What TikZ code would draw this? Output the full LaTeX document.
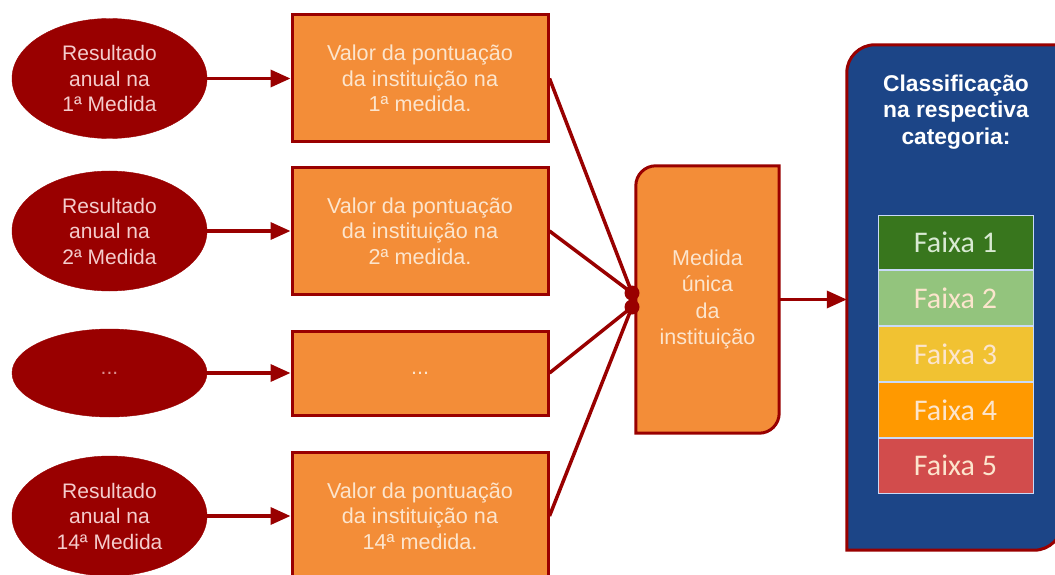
\documentclass[tikz,border=0pt]{standalone}
\usepackage{fontspec}
\setmainfont{Liberation Sans}
\newfontfamily\calib{Carlito}
\usetikzlibrary{shapes.geometric,arrows.meta,backgrounds}
\definecolor{dred}{HTML}{990000}
\definecolor{orng}{HTML}{F38D38}
\definecolor{blu}{HTML}{1C4587}
\definecolor{pinktxt}{HTML}{F4CCCC}
\definecolor{peach}{HTML}{FCE5CD}
\definecolor{lgreentxt}{HTML}{D9EAD3}
\definecolor{fa1}{HTML}{38761D}
\definecolor{fa2}{HTML}{93C47D}
\definecolor{fa3}{HTML}{F1C232}
\definecolor{fa4}{HTML}{FF9900}
\definecolor{fa5}{HTML}{D24C4C}
\definecolor{tline}{HTML}{C9DAF8}
\begin{document}
\begin{tikzpicture}[x=1pt,y=-1pt,
  oval/.style={ellipse, fill=dred, draw=dred, minimum width=195, minimum height=120, inner sep=0pt,
    align=center, text=pinktxt, font=\fontsize{21}{25.5}\selectfont},
  valbox/.style={rectangle, fill=orng, draw=dred, line width=3pt, minimum width=256, minimum height=127,
    align=center, text=peach, font=\fontsize{21.6}{25.5}\selectfont},
  conn/.style={draw=dred, line width=3.5pt},
  arr/.style={conn, -{Triangle[length=20pt,width=17pt]}},
  faixa/.style={rectangle, draw=tline, line width=1pt, minimum width=155, minimum height=54.8, inner sep=0pt,
    font=\calib\fontsize{30}{32}\selectfont, text=peach},
  dot/.style={circle, fill=dred, inner sep=0pt, minimum size=15pt}
]
\useasboundingbox (0,0) rectangle (1055,575);

% ellipses
\node[oval] (e1) at (109.5,78.5) {Resultado\\anual na\\1ª Medida};
\node[oval] (e2) at (109.5,231) {Resultado\\anual na\\2ª Medida};
\node[oval, minimum height=88, text=pinktxt!70!dred] (e3) at (109.5,373) {...};
\node[oval] (e4) at (109.5,516) {Resultado\\anual na\\14ª Medida};

% value boxes
\node[valbox] (b1) at (420,78.5) {Valor da pontuação\\da instituição na\\1ª medida.};
\node[valbox] (b2) at (420,231) {Valor da pontuação\\da instituição na\\2ª medida.};
\node[valbox, minimum height=84] (b3) at (420,373) {...};
\node[valbox] (b4) at (420,516) {Valor da pontuação\\da instituição na\\14ª medida.};

\draw[arr] (e1) -- (b1);
\draw[arr] (e2) -- (b2);
\draw[arr] (e3) -- (b3);
\draw[arr] (e4) -- (b4);

% middle box
\node[rectangle, minimum width=143, minimum height=267, inner sep=0pt, align=center, text=peach,
  font=\fontsize{21.5}{26.5}\selectfont] (m) at (707.5,299.5) {Medida\\única\\da\\instituição};

% classification box
\node[rectangle, minimum width=215, minimum height=505, inner sep=0pt] (c) at (954.5,297.5) {};

\begin{scope}[on background layer]
\fill[white] (0,0) rectangle (1055,575);
\draw[fill=orng, draw=dred, line width=3pt]
  (m.south west) [rounded corners=20pt] -- (m.north west) [sharp corners] -- (m.north east)
  [rounded corners=20pt] -- (m.south east) [sharp corners] -- cycle;
\draw[fill=blu, draw=dred, line width=3pt]
  (c.south west) [rounded corners=28pt] -- (c.north west) [sharp corners] -- (c.north east)
  [rounded corners=28pt] -- (c.south east) [sharp corners] -- cycle;
\end{scope}

\coordinate (j1) at (632,293);
\coordinate (j2) at (632,307);
\draw[conn] (b1.east) -- (j1);
\draw[conn] (b2.east) -- (j1);
\draw[conn] (b3.east) -- (j2);
\draw[conn] (b4.east) -- (j2);
\node[dot] (d1) at (j1) {};
\node[dot] (d2) at (j2) {};

\node[align=center, text=white, font=\bfseries\fontsize{22.8}{26.5}\selectfont] (title) at (956,112)
  {Classificação\\na respectiva\\categoria:};

\draw[arr] (m.east) -- (c.west |- m.east);

\node[faixa, fill=fa1, text=lgreentxt] (f1) at (955.5,242.4) {Faixa 1};
\node[faixa, fill=fa2, anchor=north] (f2) at (f1.south) {Faixa 2};
\node[faixa, fill=fa3, anchor=north] (f3) at (f2.south) {Faixa 3};
\node[faixa, fill=fa4, anchor=north] (f4) at (f3.south) {Faixa 4};
\node[faixa, fill=fa5, anchor=north] (f5) at (f4.south) {Faixa 5};
\end{tikzpicture}
\end{document}
